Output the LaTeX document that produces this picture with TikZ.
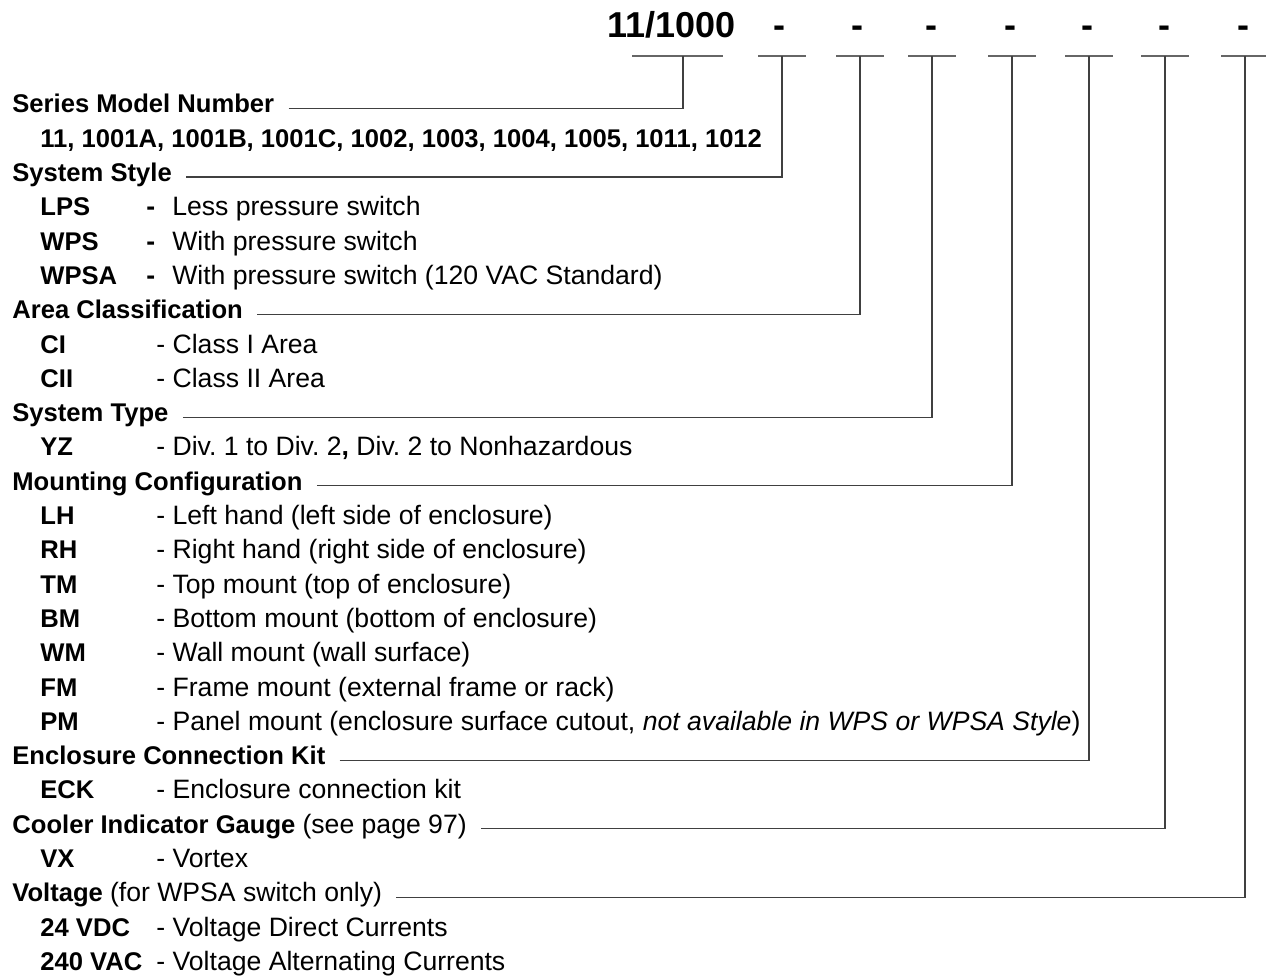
\documentclass[tikz,border=0pt]{standalone}
\usepackage{fontspec}
\setmainfont{Liberation Sans}
\frenchspacing
\tikzset{
  pnum/.style={inner sep=0pt, font=\fontsize{18}{21}\selectfont\bfseries},
  head/.style={anchor=base west, inner sep=0pt, text height=0.46em, text depth=0pt,
    font=\fontsize{12.8}{15}\selectfont\bfseries},
  code/.style={anchor=base west, inner sep=0pt, font=\fontsize{12.8}{15}\selectfont\bfseries},
  desc/.style={anchor=base west, inner sep=0pt, font=\fontsize{13.3}{15}\selectfont},
  lead/.style={draw=black!75, line width=0.55pt},
  tick/.style={draw=black!60, line width=0.55pt},
}
\begin{document}
\begin{tikzpicture}[x=0.5pt, y=-0.5pt]
  \useasboundingbox (0,0) rectangle (1266,978);
  % part number and the blanks
  \node[pnum, anchor=base west] (pn) at (607,38) {11/1000};
  \foreach \n/\x in {2/779, 3/857, 4/931, 5/1010, 6/1087, 7/1164, 8/1243}
    \node[pnum, anchor=base] (dd\n) at (\x,38) {-};
  \coordinate (k1) at (683,56);
  \draw[tick] (632,56) -- (723,56);
  \foreach \n/\x in {2/782, 3/860, 4/932, 5/1012, 6/1089, 7/1165, 8/1245} {
    \coordinate (k\n) at (\x,56);
    \draw[tick] (\x-24,56) -- (\x+24,56);
  }
  % series
  \node[head] (ser) at (12,113) {Series Model Number};
  \node[code] (serv) at (40,147.3) {11, 1001A, 1001B, 1001C, 1002, 1003, 1004, 1005, 1011, 1012};
  % style
  \node[head] (sty) at (12,181.6) {System Style};
  \node[code] (lps) at (40,215.9) {LPS};
  \node[desc] (lpsd) at (146,215.9) {{\bfseries -}\hspace{8.5pt}Less pressure switch};
  \node[code] (wps) at (40,250.2) {WPS};
  \node[desc] (wpsd) at (146,250.2) {{\bfseries -}\hspace{8.5pt}With pressure switch};
  \node[code] (wpsa) at (40,284.5) {WPSA};
  \node[desc] (wpsad) at (146,284.5) {{\bfseries -}\hspace{8.5pt}With pressure switch (120 VAC Standard)};
  % area
  \node[head] (area) at (12,318.8) {Area Classification};
  \node[code] (ci) at (40,353.1) {CI};
  \node[desc] (cid) at (156,353.1) {- Class I Area};
  \node[code] (cii) at (40,387.4) {CII};
  \node[desc] (ciid) at (156,387.4) {- Class II Area};
  % type
  \node[head] (typ) at (12,421.7) {System Type};
  \node[code] (yz) at (40,456) {YZ};
  \node[desc] (yzd) at (156,456) {- Div. 1 to Div. 2{\bfseries ,} Div. 2 to Nonhazardous};
  % mounting
  \node[head] (mnt) at (12,490.3) {Mounting Configuration};
  \node[code] (lh) at (40,524.6) {LH};
  \node[desc] (lhd) at (156,524.6) {- Left hand (left side of enclosure)};
  \node[code] (rh) at (40,558.9) {RH};
  \node[desc] (rhd) at (156,558.9) {- Right hand (right side of enclosure)};
  \node[code] (tm) at (40,593.2) {TM};
  \node[desc] (tmd) at (156,593.2) {- Top mount (top of enclosure)};
  \node[code] (bm) at (40,627.5) {BM};
  \node[desc] (bmd) at (156,627.5) {- Bottom mount (bottom of enclosure)};
  \node[code] (wm) at (40,661.8) {WM};
  \node[desc] (wmd) at (156,661.8) {- Wall mount (wall surface)};
  \node[code] (fm) at (40,696.1) {FM};
  \node[desc] (fmd) at (156,696.1) {- Frame mount (external frame or rack)};
  \node[code] (pm) at (40,730.4) {PM};
  \node[desc] (pmd) at (156,730.4) {- Panel mount (enclosure surface cutout, \textit{not available in WPS or WPSA Style})};
  % kit
  \node[head] (eck) at (12,764.7) {Enclosure Connection Kit};
  \node[code] (eckc) at (40,799) {ECK};
  \node[desc] (eckd) at (156,799) {- Enclosure connection kit};
  % gauge
  \node[head] (cool) at (12,833.3) {Cooler Indicator Gauge {\fontsize{13.3}{15}\selectfont\mdseries (see page 97)}};
  \node[code] (vx) at (40,867.6) {VX};
  \node[desc] (vxd) at (156,867.6) {- Vortex};
  % voltage
  \node[head] (volt) at (12,901.9) {Voltage {\fontsize{13.3}{15}\selectfont\mdseries (for WPSA switch only)}};
  \node[code] (vdc) at (40,936.2) {24 VDC};
  \node[desc] (vdcd) at (156,936.2) {- Voltage Direct Currents};
  \node[code] (vac) at (40,970.5) {240 VAC};
  \node[desc] (vacd) at (156,970.5) {- Voltage Alternating Currents};
  % leaders
  \foreach \h/\k in {ser/k1, sty/k2, area/k3, typ/k4, mnt/k5, eck/k6, cool/k7, volt/k8}
    \draw[lead] ([xshift=7pt]\h.east) -| (\k);
\end{tikzpicture}
\end{document}
